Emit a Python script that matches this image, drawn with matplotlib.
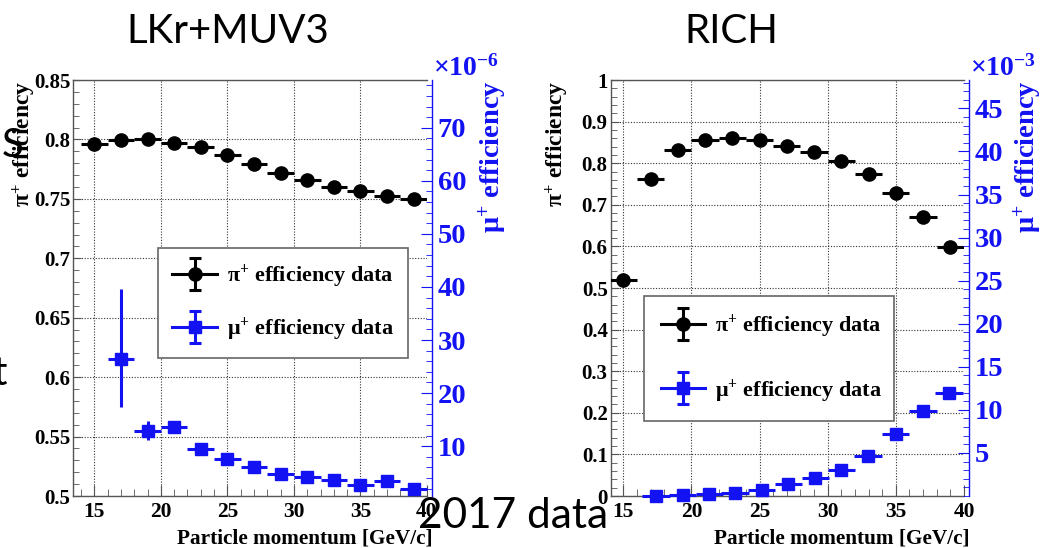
import numpy as np
import matplotlib
matplotlib.use("Agg")
import matplotlib.pyplot as plt
from matplotlib.ticker import MultipleLocator, FixedLocator, FixedFormatter
from matplotlib.container import ErrorbarContainer
from matplotlib.legend_handler import HandlerErrorbar

# momentum bins [GeV/c], 2 GeV/c wide
mom_pi = [15, 17, 19, 21, 23, 25, 27, 29, 31, 33, 35, 37, 39]
mom_mu_lkr = [17, 19, 21, 23, 25, 27, 29, 31, 33, 35, 37, 39]
mom_mu_rich = [17.4, 19.35, 21.3, 23.2, 25.15, 27.1, 29.1, 31.0, 32.95, 35.0, 37.0, 38.9]
bin_half = 1.0

# LKr+MUV3 : pi+ efficiency, mu+ efficiency (x1e-6)
pi_eff_lkr = [0.796, 0.7995, 0.800, 0.797, 0.7936, 0.7866, 0.779, 0.7718,
              0.7656, 0.7602, 0.7563, 0.7527, 0.750]
mu_eff_lkr = [26.4, 12.8, 13.6, 9.4, 7.5, 6.0, 4.8, 4.2, 3.6, 2.6, 3.4, 2.0]
mu_err_lo_lkr = [9.1, 1.7, 0.8, 0.6, 0.5, 0.5, 0.4, 0.4, 0.4, 0.3, 0.4, 0.3]
mu_err_hi_lkr = [13.2, 2.0, 0.9, 0.7, 0.6, 0.5, 0.5, 0.4, 0.4, 0.4, 0.4, 0.3]

# RICH : pi+ efficiency, mu+ efficiency (x1e-3)
pi_eff_rich = [0.519, 0.762, 0.8325, 0.855, 0.860, 0.855, 0.842, 0.828,
               0.8045, 0.773, 0.728, 0.670, 0.599]
mu_eff_rich = [0.0, 0.1, 0.2, 0.4, 0.7, 1.35, 2.1, 3.0, 4.7, 7.2, 9.9, 12.0]

mom_ticks = [15, 20, 25, 30, 35, 40]
lkr_pi_ticks = [0.5, 0.55, 0.6, 0.65, 0.7, 0.75, 0.8, 0.85]
lkr_pi_labels = ["0.5", "0.55", "0.6", "0.65", "0.7", "0.75", "0.8", "0.85"]
lkr_mu_ticks = [10, 20, 30, 40, 50, 60, 70]
rich_pi_ticks = [0, 0.1, 0.2, 0.3, 0.4, 0.5, 0.6, 0.7, 0.8, 0.9, 1.0]
rich_pi_labels = ["0", "0.1", "0.2", "0.3", "0.4", "0.5", "0.6", "0.7", "0.8", "0.9", "1"]
rich_mu_ticks = [5, 10, 15, 20, 25, 30, 35, 40, 45]

BLUE = "#1212f2"
FRAME = "#555555"

plt.rcParams["font.family"] = ["Liberation Serif", "DejaVu Serif"]
plt.rcParams["font.weight"] = "bold"
plt.rcParams["mathtext.fontset"] = "custom"
plt.rcParams["mathtext.rm"] = "Liberation Serif:bold"
plt.rcParams["mathtext.it"] = "Liberation Serif:bold"
plt.rcParams["mathtext.bf"] = "Liberation Serif:bold"
plt.rcParams["mathtext.default"] = "rm"

W, H = 1040, 548
fig = plt.figure(figsize=(W / 100, H / 100), dpi=100)
fig.patch.set_facecolor("white")


def fx(px):
    return px / W


def fy(py):
    return 1 - py / H


def panel(x0, x1, xlim, pi_ticks, pi_labels, pi_minor, pi_lim,
          mu_ticks, mu_minor, mu_lim):
    ax = fig.add_axes([fx(x0), fy(496), fx(x1 - x0), (496 - 80) / H])
    ax.set_xlim(*xlim)
    ax.set_ylim(*pi_lim)
    ax.xaxis.set_major_locator(FixedLocator(mom_ticks))
    ax.xaxis.set_minor_locator(MultipleLocator(1))
    ax.yaxis.set_major_locator(FixedLocator(pi_ticks))
    ax.yaxis.set_major_formatter(FixedFormatter(pi_labels))
    ax.yaxis.set_minor_locator(MultipleLocator(pi_minor))
    ax.grid(True, which="major", color="#333333", linestyle=(0, (1, 1.5)), linewidth=0.8)
    ax.set_axisbelow(True)
    for s in ["left", "bottom", "top"]:
        ax.spines[s].set_color(FRAME)
        ax.spines[s].set_linewidth(1.0)
    ax.spines["right"].set_visible(False)
    ax.tick_params(axis="y", which="both", direction="in", left=True, right=False,
                   colors="black", labelsize=15, pad=2)
    ax.tick_params(axis="y", which="major", length=6, color=FRAME)
    ax.tick_params(axis="y", which="minor", length=4.5, color=FRAME)
    ax.tick_params(axis="x", which="both", direction="in", top=False,
                   labelsize=15.5, pad=4)
    ax.tick_params(axis="x", which="major", length=8, color=FRAME)
    ax.tick_params(axis="x", which="minor", length=5, color=FRAME)

    ax2 = ax.twinx()
    ax2.set_ylim(*mu_lim)
    for s in ["left", "bottom", "top"]:
        ax2.spines[s].set_visible(False)
    ax2.spines["right"].set_position(("outward", 3.6))
    ax2.spines["right"].set_color(BLUE)
    ax2.spines["right"].set_linewidth(1.0)
    ax2.yaxis.set_major_locator(FixedLocator(mu_ticks))
    ax2.yaxis.set_minor_locator(MultipleLocator(mu_minor))
    ax2.tick_params(axis="y", which="both", direction="in", colors=BLUE,
                    labelsize=20.5, pad=4)
    ax2.tick_params(axis="y", which="major", length=8)
    ax2.tick_params(axis="y", which="minor", length=4.5)

    return ax, ax2


def draw(ax, ax2, pi_eff, mom_mu, mu_eff, mu_err):
    ax.errorbar(mom_pi, pi_eff, xerr=bin_half, fmt="o", color="black",
                ms=9.5, elinewidth=2.2, capsize=0, zorder=3)
    ax2.errorbar(mom_mu, mu_eff, xerr=bin_half, yerr=mu_err, fmt="s", color=BLUE,
                 ms=8.5, elinewidth=2.2, capsize=0, clip_on=False, zorder=3)


def legend(ax2, box, spacing, pad):
    h_pi = ax2.errorbar([np.nan], [np.nan], yerr=[1], fmt="-o", color="black",
                        ms=9.5, lw=2.2, elinewidth=2.2, capsize=4, capthick=2.2,
                        label=r"$\pi^{+}$ efficiency data")
    h_mu = ax2.errorbar([np.nan], [np.nan], yerr=[1], fmt="-s", color=BLUE,
                        ms=8.5, lw=2.2, elinewidth=2.2, capsize=4, capthick=2.2,
                        label=r"$\mu^{+}$ efficiency data")
    x0, y0, x1, y1 = box
    leg = ax2.legend(handles=[h_pi, h_mu], loc="upper left", mode="expand",
                     bbox_to_anchor=(fx(x0), fy(y1), fx(x1 - x0), (y1 - y0) / H),
                     bbox_transform=fig.transFigure, borderaxespad=0,
                     fancybox=False, framealpha=1, edgecolor="#666666",
                     fontsize=16, labelspacing=spacing, borderpad=pad,
                     handlelength=2.0, handletextpad=0.45,
                     handler_map={ErrorbarContainer: HandlerErrorbar(yerr_size=0.72)})
    leg.get_frame().set_linewidth(1.2)
    leg.set_zorder(10)


# LKr+MUV3 panel
ax_l, ax_l2 = panel(73, 427, (13.4, 40), lkr_pi_ticks, lkr_pi_labels, 0.01, (0.5, 0.85),
                    lkr_mu_ticks, 2, (0.6, 79))
draw(ax_l, ax_l2, pi_eff_lkr, mom_mu_lkr, mu_eff_lkr, [mu_err_lo_lkr, mu_err_hi_lkr])
legend(ax_l2, (158, 248, 408, 353), 1.15, 0.65)

# RICH panel
ax_r, ax_r2 = panel(610.5, 964, (14.06, 40), rich_pi_ticks, rich_pi_labels, 0.02, (0, 1),
                    rich_mu_ticks, 1, (0, 48.3))
draw(ax_r, ax_r2, pi_eff_rich, mom_mu_rich, mu_eff_rich, None)
legend(ax_r2, (644, 296, 894, 417), 1.65, 0.75)

# axis titles, ROOT style
for xr in [433, 970]:
    fig.text(fx(xr), fy(543), "Particle momentum [GeV/c]", ha="right", va="baseline",
             fontsize=15.3)
for xc in [24, 557]:
    fig.text(fx(xc), fy(81), r"$\pi^{+}$ efficiency", rotation=90, ha="center",
             va="top", fontsize=17)
for xc in [492, 1027]:
    fig.text(fx(xc), fy(80), r"$\mu^{+}$ efficiency", rotation=90, ha="center",
             va="top", fontsize=20.5, color=BLUE)
fig.text(fx(433), fy(76), r"$\times10^{-6}$", ha="left", va="baseline",
         fontsize=20, color=BLUE)
fig.text(fx(970), fy(76), r"$\times10^{-3}$", ha="left", va="baseline",
         fontsize=20, color=BLUE)

# slide texts
fig.text(fx(228), fy(43), "LKr+MUV3", ha="center", va="baseline",
         fontsize=29, family="Lato", weight="normal")
fig.text(fx(731), fy(43), "RICH", ha="center", va="baseline",
         fontsize=29, family="Lato", weight="normal")
fig.text(fx(418), fy(528), "2017 data", ha="left", va="baseline",
         fontsize=30.5, family="Lato", weight="normal")
fig.text(fx(2), fy(157), "S", ha="left", va="baseline",
         fontsize=29, family="Lato", weight="normal")
fig.text(fx(7), fy(385), "t", ha="right", va="baseline",
         fontsize=29, family="Lato", weight="normal")

fig.savefig("out.png", dpi=100, facecolor="white")
